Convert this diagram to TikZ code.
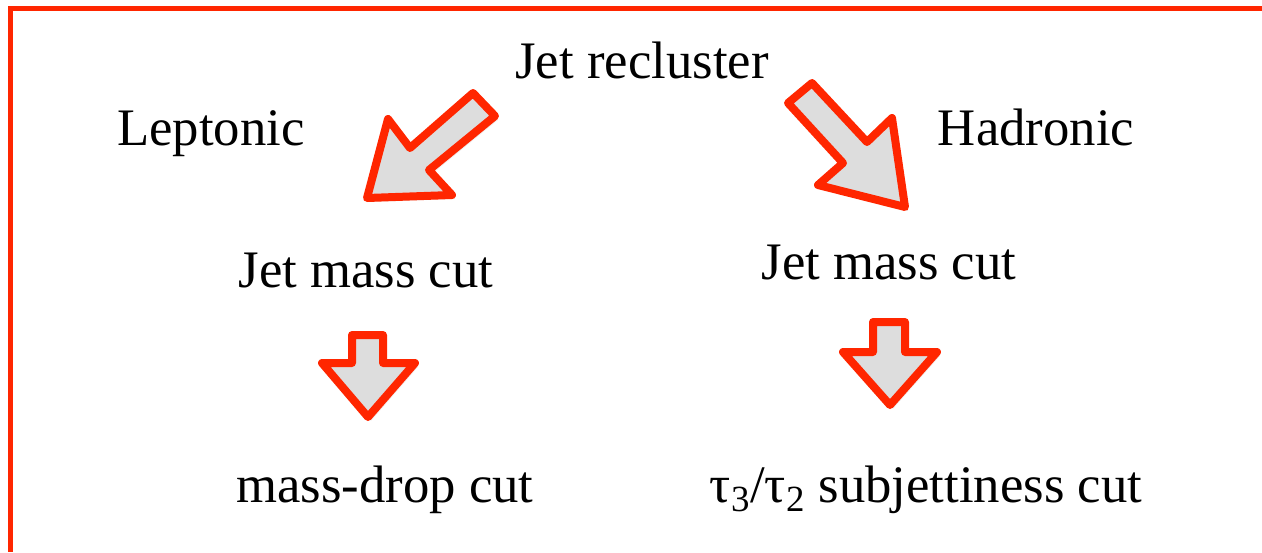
\documentclass[tikz,border=0pt]{standalone}
\usepackage{fontspec}
\setmainfont{Liberation Serif}
\usepackage{xcolor}
\usetikzlibrary{positioning,shadows}
\definecolor{framered}{RGB}{255,38,0}
\definecolor{arrowgray}{RGB}{221,221,221}
\tikzset{
  label text/.style={font=\fontsize{30}{36}\selectfont, anchor=base},
  fat arrow/.style={draw=framered, fill=arrowgray, line width=0.16cm, line join=round,
    drop shadow={opacity=0.12, shadow xshift=0.06cm, shadow yshift=-0.08cm}}
}
\begin{document}
\begin{tikzpicture}[x=0.02cm,y=-0.02cm]
  \useasboundingbox (0,0) rectangle (1262,552);
  % Frame
  \draw[framered, line width=0.1cm] (1262,8.5) -- (10.5,8.5) -- (10.5,552);
  % Labels
  \node[label text] (recluster) at (642,78) {Jet recluster};
  \node[label text] (lep) at (211,145) {Leptonic};
  \node[label text] (had) at (1036,145) {Hadronic};
  \node[label text] (lepmass) at (366,287) {Jet mass cut};
  \node[label text] (hadmass) at (889,279) {Jet mass cut};
  \node[label text] (massdrop) at (385,502) {mass-drop cut};
  \node[label text] (subjet) at (926,502) {τ\textsubscript{3}/τ\textsubscript{2} subjettiness cut};
  % Diagonal arrows
  \draw[fat arrow] (473,93) -- (495,116) -- (429,170) -- (452,195) -- (367,198)
    -- (388,119) -- (410,148) -- cycle;
  \draw[fat arrow] (812,83) -- (867,142) -- (892,118) -- (905,207) -- (818,185)
    -- (843,163) -- (788,103) -- cycle;
  % Down arrows
  \draw[fat arrow] (352,335) -- (383,335) -- (383,363) -- (415,363) -- (368,417)
    -- (322,363) -- (352,363) -- cycle;
  \draw[fat arrow] (873,322) -- (905,322) -- (905,352) -- (937,352) -- (890,405)
    -- (843,352) -- (873,352) -- cycle;
\end{tikzpicture}
\end{document}
